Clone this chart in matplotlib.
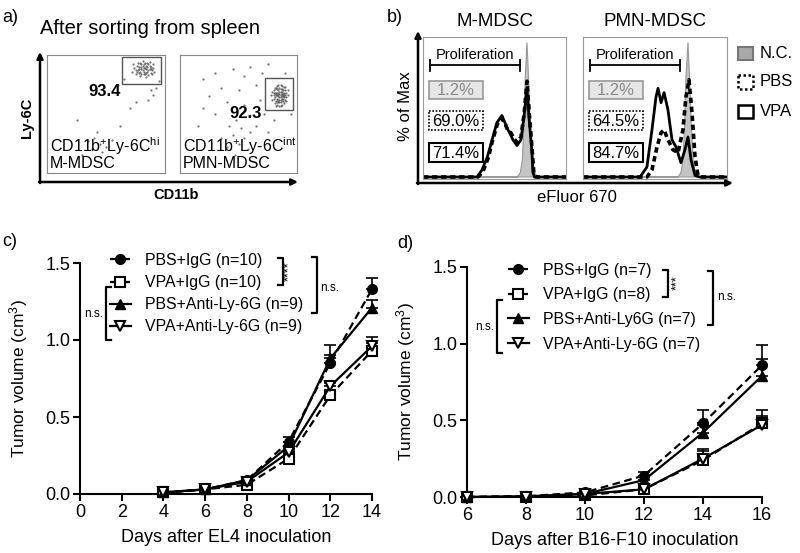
"""
MDSC sorting, proliferation histograms and tumor growth curves
"""

import matplotlib.pyplot as plt
from matplotlib.patches import Rectangle

plt.rcParams['font.family'] = ['Liberation Sans', 'DejaVu Sans']
plt.rcParams['mathtext.fontset'] = 'custom'
plt.rcParams['mathtext.rm'] = 'Liberation Sans'
plt.rcParams['mathtext.it'] = 'Liberation Sans:italic'
plt.rcParams['mathtext.bf'] = 'Liberation Sans:bold'

# ---------------- data ----------------
# a) dot plots, CD11b (x) vs Ly-6C (y), box units 0-100
mmdsc_dots_x = [72, 74, 75, 76, 77, 78, 78, 79, 80, 80, 81, 82, 82, 83, 83, 84, 85, 85, 86, 86,
                87, 88, 88, 89, 90, 76, 79, 81, 84, 87, 73, 75, 77, 79, 80, 81, 82, 83, 84, 85,
                86, 87, 88, 89, 90, 91, 78, 80, 82, 84,
                88, 90, 86, 92, 75, 60, 40, 45, 38, 50, 42, 55, 47, 35, 30, 62, 70, 95, 65, 25]
mmdsc_dots_y = [86, 89, 84, 91, 87, 85, 90, 93, 88, 84, 91, 86, 89, 93, 84, 88, 90, 86, 92, 83,
                88, 85, 90, 87, 92, 86, 82, 95, 81, 94, 92, 87, 93, 86, 90, 87, 92, 89, 85, 93,
                87, 91, 88, 84, 89, 86, 88, 92, 84, 91,
                70, 66, 62, 72, 60, 75, 30, 25, 20, 22, 35, 28, 18, 27, 15, 40, 55, 78, 80, 45]
pmn_dots_x = [79, 80, 80, 81, 81, 81, 82, 82, 82, 83, 83, 83, 83, 84, 84, 84, 85, 85, 85, 85,
              86, 86, 86, 86, 87, 87, 87, 87, 88, 88, 88, 89, 89, 89, 89, 90, 90, 90, 91, 91,
              92, 80, 81, 82, 84, 84, 85, 86, 86, 87, 88, 83, 84, 85, 86, 87, 88, 89, 85, 83,
              82, 80, 91, 90, 78, 79, 92, 87, 83, 86,
              20, 30, 45, 55, 60, 70, 75, 65, 50, 35, 25, 40, 55, 68, 72, 60, 48, 42, 52, 45,
              55, 50, 40, 60, 65, 30, 20, 75, 80, 95, 90, 15, 35, 58, 47]
pmn_dots_y = [62, 66, 70, 59, 64, 68, 61, 66, 72, 58, 63, 68, 74, 60, 65, 70, 57, 62, 67, 72,
              60, 64, 69, 75, 58, 63, 67, 71, 61, 65, 70, 59, 64, 68, 73, 62, 66, 70, 64, 68,
              66, 63, 72, 57, 75, 67, 64, 66, 62, 69, 67, 66, 62, 69, 71, 65, 63, 66, 60, 71,
              68, 68, 61, 73, 66, 69, 70, 74, 60, 57,
              80, 85, 88, 82, 90, 85, 92, 75, 70, 72, 65, 60, 58, 62, 50, 48, 45, 40, 38, 32,
              30, 25, 22, 35, 40, 50, 55, 35, 45, 50, 85, 40, 30, 20, 15]
mmdsc_pct = "93.4"
pmn_pct = "92.3"

# b) eFluor 670 dilution histograms (% of max), channel units 0-100
m_nc_x = [0, 66, 68, 69.5, 70.5, 71.5, 72.7, 73.8, 75, 76.5, 78, 80, 100]
m_nc_y = [0, 0, 3, 12, 35, 70, 94, 70, 35, 12, 3, 0, 0]
m_vpa_x = [0, 37.8, 41.3, 45, 48.3, 51.7, 55.2, 57.3, 59.4, 61, 62.9, 65.7, 68.5, 70.6,
           72.7, 74.1, 76.2, 76.9, 78, 100]
m_vpa_y = [0, 0, 5, 14, 26, 38, 43, 38, 33, 30, 26, 22, 26, 42, 62, 42, 17, 3, 0, 0]
m_pbs_x = [0, 38.5, 42, 45.5, 48.5, 52, 55, 57.5, 59.5, 61.5, 63.5, 66, 68.5, 70.8,
           72.7, 74.3, 76.4, 77.5, 79, 100]
m_pbs_y = [0, 0, 4, 13, 25, 37, 41, 37, 32, 31, 27, 24, 28, 45, 67, 45, 18, 3, 0, 0]
p_nc_x = [0, 66, 68, 69.5, 70.5, 71.5, 72.9, 74, 75.2, 76.5, 78, 80, 100]
p_nc_y = [0, 0, 3, 12, 35, 70, 94, 70, 35, 12, 3, 0, 0]
p_vpa_x = [0, 39.6, 44.4, 47.9, 50.7, 52.1, 54.2, 56.3, 59, 61.8, 64.6, 68, 70.8, 72.9,
           75, 77.8, 81, 100]
p_vpa_y = [0, 0, 7, 33, 56, 62, 52, 59, 47, 26, 21, 10, 19, 28, 12, 1, 0, 0]
p_pbs_x = [0, 44.4, 47.9, 51.4, 54.2, 56.3, 59, 62.5, 66, 69.4, 71.5, 73.6, 75.7, 77.8,
           79.9, 82.6, 100]
p_pbs_y = [0, 0, 5, 21, 31, 33, 26, 19, 17, 33, 56, 68, 45, 14, 1, 0, 0]
m_pcts = ["1.2%", "69.0%", "71.4%"]
p_pcts = ["1.2%", "64.5%", "84.7%"]

# c) EL4 tumor volume (cm3), mean and upper SEM
days_el4 = [4, 6, 8, 10, 12, 14]
el4_pbs_igg = [0.01, 0.03, 0.09, 0.34, 0.85, 1.33]
el4_pbs_igg_err = [0, 0, 0.01, 0.03, 0.05, 0.07]
el4_vpa_igg = [0.01, 0.03, 0.06, 0.23, 0.64, 0.93]
el4_vpa_igg_err = [0, 0, 0.01, 0.02, 0.03, 0.05]
el4_pbs_anti = [0.01, 0.03, 0.09, 0.31, 0.88, 1.21]
el4_pbs_anti_err = [0, 0, 0.01, 0.03, 0.09, 0.05]
el4_vpa_anti = [0.01, 0.03, 0.08, 0.27, 0.70, 0.96]
el4_vpa_anti_err = [0, 0, 0.01, 0.02, 0.02, 0.06]
el4_labels = ["PBS+IgG (n=10)", "VPA+IgG (n=10)", "PBS+Anti-Ly-6G (n=9)", "VPA+Anti-Ly-6G (n=9)"]

# d) B16-F10 tumor volume (cm3)
days_b16 = [6, 8, 10, 12, 14, 16]
b16_pbs_igg = [0.0, 0.005, 0.03, 0.14, 0.48, 0.86]
b16_pbs_igg_err = [0, 0, 0.01, 0.02, 0.09, 0.13]
b16_vpa_igg = [0.0, 0.003, 0.01, 0.05, 0.24, 0.48]
b16_vpa_igg_err = [0, 0, 0.005, 0.01, 0.07, 0.09]
b16_pbs_anti = [0.0, 0.004, 0.02, 0.11, 0.42, 0.79]
b16_pbs_anti_err = [0, 0, 0.01, 0.02, 0.05, 0.11]
b16_vpa_anti = [0.0, 0.003, 0.02, 0.05, 0.25, 0.47]
b16_vpa_anti_err = [0, 0, 0.005, 0.01, 0.05, 0.06]
b16_labels = ["PBS+IgG (n=7)", "VPA+IgG (n=8)", "PBS+Anti-Ly6G (n=7)", "VPA+Anti-Ly-6G (n=7)"]

# ---------------- layout helpers ----------------
W, H = 800, 553


def rect(x0, y0, x1, y1):
    return [x0 / W, 1 - y1 / H, (x1 - x0) / W, (y1 - y0) / H]


fig = plt.figure(figsize=(8, 5.53), dpi=100)
ov = fig.add_axes([0, 0, 1, 1], zorder=10)
ov.set_xlim(0, W)
ov.set_ylim(H, 0)
ov.axis('off')


def arrow(x0, y0, x1, y1):
    ov.annotate('', xy=(x1, y1), xytext=(x0, y0),
                arrowprops=dict(arrowstyle='-|>', lw=1.8, color='black',
                                mutation_scale=9, shrinkA=0, shrinkB=0))


# ---------------- a) dot plots ----------------
ov.text(2, 17, "a)", fontsize=13, va='center')
ov.text(40, 28, "After sorting from spleen", fontsize=14.5, va='center')


def dot_box(r, xs, ys, gate, pct, pct_pos, line1, line2):
    ax = fig.add_axes(rect(*r))
    ax.plot(xs, ys, 'o', ms=1.6, color='#555', mec='none', alpha=0.8)
    gx0, gy0, gx1, gy1 = gate
    ax.add_patch(Rectangle((gx0, gy0), gx1 - gx0, gy1 - gy0, fill=False, ec='#555', lw=1))
    ax.set_xlim(0, 100)
    ax.set_ylim(0, 100)
    ax.set_xticks([])
    ax.set_yticks([])
    for s in ax.spines.values():
        s.set_color('#888')
    ov.text(pct_pos[0], pct_pos[1], pct, fontsize=12, weight='bold', ha='center', va='center')
    ov.text(r[0] + 3, 146, line1, fontsize=11.5, va='center')
    ov.text(r[0] + 3, 163, line2, fontsize=11.5, va='center')


dot_box((47, 55, 165, 173), mmdsc_dots_x, mmdsc_dots_y, (63.6, 75.4, 96.6, 98.3),
        mmdsc_pct, (105, 92), r"CD11b$^{+}$Ly-6C$^{\mathrm{hi}}$", "M-MDSC")
dot_box((180, 55, 297, 173), pmn_dots_x, pmn_dots_y, (72.6, 53.4, 96.6, 80.5),
        pmn_pct, (246, 113), r"CD11b$^{+}$Ly-6C$^{\mathrm{int}}$", "PMN-MDSC")
arrow(40, 183, 40, 52)
arrow(39, 182, 298, 182)
ov.text(27, 118, "Ly-6C", fontsize=10.5, weight='bold', rotation=90, ha='center', va='center')
ov.text(176, 195, "CD11b", fontsize=10.5, weight='bold', ha='center', va='center')

# ---------------- b) histograms ----------------
ov.text(387, 17, "b)", fontsize=13, va='center')


def hist_box(x0, x1, title, nc, pbs, vpa, pcts):
    ax = fig.add_axes(rect(x0, 37, x1, 179))
    ax.fill(nc[0], nc[1], color='#c4c4c4', ec='#999', lw=0.8)
    ax.plot(vpa[0], vpa[1], color='black', lw=2)
    ax.plot(pbs[0], pbs[1], color='black', lw=2.6, dashes=(1.5, 1))
    ax.set_xlim(0, 100)
    ax.set_ylim(-1.4, 97.9)
    ax.set_xticks([])
    ax.set_yticks([])
    for s in ax.spines.values():
        s.set_color('#999')
    ov.text((x0 + x1) / 2, 22, title, fontsize=13.5, ha='center', va='center')
    bx0, bx1 = x0 + 7, x0 + 97
    ov.plot([bx0, bx1], [65, 65], color='black', lw=1.3)
    ov.plot([bx0, bx0], [60, 71], color='black', lw=1.3)
    ov.plot([bx1, bx1], [60, 71], color='black', lw=1.3)
    ov.text((bx0 + bx1) / 2, 55, "Proliferation", fontsize=10.5, ha='center', va='center')
    styles = [dict(fc='#e6e6e6', ec='#999', ls='-', lw=1.2),
              dict(fc='white', ec='black', ls=(0, (1, 1)), lw=1.2),
              dict(fc='white', ec='black', ls='-', lw=1.5)]
    colors = ['#8a8a8a', 'black', 'black']
    for (ty0, ty1), txt, st, c in zip([(81, 99), (111, 130), (143, 162)], pcts, styles, colors):
        ov.add_patch(Rectangle((x0 + 6, ty0), 54, ty1 - ty0, **st))
        ov.text(x0 + 33, (ty0 + ty1) / 2 + 0.5, txt, fontsize=12, color=c, ha='center', va='center')


hist_box(423, 566, "M-MDSC", (m_nc_x, m_nc_y), (m_pbs_x, m_pbs_y), (m_vpa_x, m_vpa_y), m_pcts)
hist_box(583, 727, "PMN-MDSC", (p_nc_x, p_nc_y), (p_pbs_x, p_pbs_y), (p_vpa_x, p_vpa_y), p_pcts)
arrow(418, 184, 418, 31)
arrow(417, 183, 733, 183)
ov.text(405, 106, "% of Max", fontsize=12, rotation=90, ha='center', va='center')
ov.text(577, 198, "eFluor 670", fontsize=12, ha='center', va='center')

# legend for b
ov.add_patch(Rectangle((738, 47), 15, 13, fc='#a8a8a8', ec='#777', lw=1.5))
ov.add_patch(Rectangle((738, 75), 15, 14, fc='white', ec='black', ls=(0, (1, 1)), lw=1.8))
ov.add_patch(Rectangle((738, 105), 15, 13, fc='white', ec='black', lw=1.8))
for ty, txt in zip([53, 82, 112], ["N.C.", "PBS", "VPA"]):
    ov.text(760, ty, txt, fontsize=12, va='center')


# ---------------- c) and d) growth curves ----------------
def growth(r, days, series, labels, xlim, xticks, xlabel, leg_anchor, spacing):
    ax = fig.add_axes(rect(*r))
    ax.patch.set_alpha(0)
    styles = [dict(marker='o', ls=(0, (3.5, 2)), mfc='black', ms=7),
              dict(marker='s', ls=(0, (3.5, 2)), mfc='white', ms=7.5, mew=1.5),
              dict(marker='^', ls='-', mfc='black', ms=7.5),
              dict(marker='v', ls='-', mfc='white', ms=7.5, mew=1.5)]
    handles = []
    for (vals, errs), st, lab in zip(series, styles, labels):
        ax.errorbar(days, vals, yerr=[[0] * len(errs), errs], fmt='none', ecolor='black',
                    elinewidth=1.2, capsize=4, capthick=1.2, clip_on=False, zorder=2)
        h, = ax.plot(days, vals, color='black', lw=1.6, mec='black', clip_on=False,
                     zorder=3, label=lab, **st)
        handles.append(h)
    ax.set_xlim(*xlim)
    ax.set_ylim(0, 1.5)
    ax.set_xticks(xticks)
    ax.set_yticks([0, 0.5, 1.0, 1.5])
    ax.set_yticklabels(["0.0", "0.5", "1.0", "1.5"])
    for s in ['top', 'right']:
        ax.spines[s].set_visible(False)
    for s in ['left', 'bottom']:
        ax.spines[s].set_linewidth(1.5)
    ax.tick_params(direction='out', length=5, width=1.5, labelsize=13, pad=2)
    ax.set_xlabel(xlabel, fontsize=13, labelpad=6)
    ax.set_ylabel("Tumor volume (cm$^3$)", fontsize=12.5)
    ax.yaxis.set_label_coords(-0.17, 0.5)
    ax.legend(handles=handles, loc='upper left', bbox_to_anchor=(leg_anchor[0] / W, 1 - leg_anchor[1] / H),
              bbox_transform=fig.transFigure, frameon=False, fontsize=11.4, borderpad=0,
              handlelength=1.3, handletextpad=0.9, labelspacing=spacing, borderaxespad=0)
    return ax


def bracket(x, y0, y1, side, tick=5):
    d = -tick if side == 'left' else tick
    ov.plot([x + d, x, x, x + d], [y0, y0, y1, y1], color='black', lw=1.6)


ov.text(2, 241, "c)", fontsize=13, va='center')
growth((80, 263, 372, 494), days_el4,
       [(el4_pbs_igg, el4_pbs_igg_err), (el4_vpa_igg, el4_vpa_igg_err),
        (el4_pbs_anti, el4_pbs_anti_err), (el4_vpa_anti, el4_vpa_anti_err)],
       el4_labels, (0, 14), range(0, 15, 2), "Days after EL4 inoculation", (110, 253), 0.45)
bracket(283, 258, 285, 'left')
ov.text(289, 271, "****", fontsize=9, rotation=90, ha='center', va='center')
bracket(317, 257, 313, 'left')
ov.text(320, 288, "n.s.", fontsize=8.5, va='center')
bracket(106, 287, 340, 'right')
ov.text(103, 314, "n.s.", fontsize=8.5, ha='right', va='center')

ov.text(397, 244, "d)", fontsize=13, va='center')
growth((467, 267, 762, 497), days_b16,
       [(b16_pbs_igg, b16_pbs_igg_err), (b16_vpa_igg, b16_vpa_igg_err),
        (b16_pbs_anti, b16_pbs_anti_err), (b16_vpa_anti, b16_vpa_anti_err)],
       b16_labels, (6, 16), range(6, 17, 2), "Days after B16-F10 inoculation", (508, 263), 0.6)
bracket(668, 270, 297, 'left')
ov.text(677, 283, "***", fontsize=9, rotation=90, ha='center', va='center')
bracket(713, 271, 325, 'left')
ov.text(717, 297, "n.s.", fontsize=8.5, va='center')
bracket(497, 300, 353, 'right')
ov.text(494, 327, "n.s.", fontsize=8.5, ha='right', va='center')

fig.savefig("out.png", dpi=100)
